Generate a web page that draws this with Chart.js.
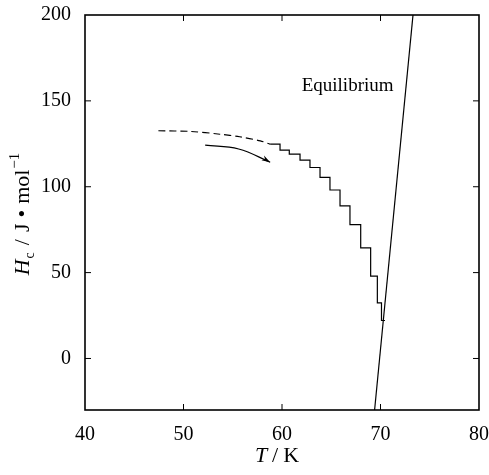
<!DOCTYPE html>
<html>
<head>
<meta charset="utf-8">
<script src="https://cdn.jsdelivr.net/npm/chart.js@4.4.1/dist/chart.umd.min.js"></script>
<style>
  html, body { margin: 0; padding: 0; background: #fff; }
  #wrap { width: 489px; height: 475px; position: relative; }
</style>
</head>
<body>
<div id="wrap"><canvas id="chart"></canvas></div>
<script>
// Values
const xTicks = [40, 50, 60, 70, 80];
const yTicks = [0, 50, 100, 150, 200];

// dashed start of the heating curve
const dashedT = [47.45, 50.7, 53.7, 55.7, 57.8, 58.8];
const dashedH = [132.6, 132.2, 130.6, 129.1, 126.7, 124.8];

// stepped part (each value holds until the next T, then drops)
const stepT = [58.8, 59.8, 60.74, 61.83, 62.84, 63.86, 64.87, 65.89, 66.9, 67.99, 69.0, 69.68, 70.1, 70.46];
const stepH = [124.8, 121.3, 119.0, 115.5, 111.2, 105.4, 98.1, 88.9, 77.9, 64.4, 47.9, 32.4, 22.1, 22.1];

// equilibrium line
const eqT = [69.4, 73.3];
const eqH = [-30, 200];

// arrow
const arrowT = [52.2, 55.6, 58.8];
const arrowH = [124.2, 122.0, 114.3];

const serif = '"Liberation Serif", "DejaVu Serif", serif';

function pts(xs, ys) {
  return xs.map((x, i) => ({ x: x, y: ys[i] }));
}

// draw a run of text pieces starting at x, each with own font / offset / gap
function drawRun(ctx, parts, x) {
  parts.forEach(p => {
    ctx.font = p.f;
    x += p.gap || 0;
    ctx.fillText(p.t, x, p.dy || 0);
    x += ctx.measureText(p.t).width;
  });
  return x;
}

function runWidth(ctx, parts) {
  let w = 0;
  parts.forEach(p => { ctx.font = p.f; w += (p.gap || 0) + ctx.measureText(p.t).width; });
  return w;
}

// box, inward ticks on all four sides, labels and arrowhead
const framePlugin = {
  id: 'frame',
  afterDatasetsDraw(chart) {
    const ctx = chart.ctx;
    const a = chart.chartArea;
    const xs = chart.scales.x;
    const ys = chart.scales.y;
    ctx.save();
    ctx.strokeStyle = '#000';
    ctx.lineWidth = 1.6;
    ctx.strokeRect(a.left, a.top, a.right - a.left, a.bottom - a.top);

    ctx.lineWidth = 1;
    ctx.beginPath();
    xTicks.forEach(v => {
      const px = xs.getPixelForValue(v);
      if (v === 40 || v === 80) return;
      ctx.moveTo(px, a.bottom); ctx.lineTo(px, a.bottom - 6);
      ctx.moveTo(px, a.top); ctx.lineTo(px, a.top + 6);
    });
    yTicks.forEach(v => {
      const py = ys.getPixelForValue(v);
      if (v === 200) return;
      ctx.moveTo(a.left, py); ctx.lineTo(a.left + 6, py);
      ctx.moveTo(a.right, py); ctx.lineTo(a.right - 6, py);
    });
    ctx.stroke();

    // arrowhead at the end of the arrow curve
    const n = arrowT.length;
    const ex = xs.getPixelForValue(arrowT[n - 1]);
    const ey = ys.getPixelForValue(arrowH[n - 1]);
    const bx = xs.getPixelForValue(arrowT[n - 2]);
    const by = ys.getPixelForValue(arrowH[n - 2]);
    const ang = Math.atan2(ey - by, ex - bx) + 0.12;
    ctx.fillStyle = '#000';
    ctx.beginPath();
    ctx.moveTo(ex, ey);
    ctx.lineTo(ex - 9 * Math.cos(ang - 0.3), ey - 9 * Math.sin(ang - 0.3));
    ctx.lineTo(ex - 6 * Math.cos(ang), ey - 6 * Math.sin(ang));
    ctx.lineTo(ex - 9 * Math.cos(ang + 0.3), ey - 9 * Math.sin(ang + 0.3));
    ctx.closePath();
    ctx.fill();

    // Equilibrium label
    ctx.font = '19px ' + serif;
    ctx.textAlign = 'left';
    ctx.textBaseline = 'middle';
    ctx.fillText('Equilibrium', xs.getPixelForValue(62.0), ys.getPixelForValue(158.5));

    // x title: T / K
    ctx.textBaseline = 'alphabetic';
    const xParts = [
      { t: 'T', f: 'italic 22px ' + serif },
      { t: '/', f: '22px ' + serif, gap: 5 },
      { t: 'K', f: '22px ' + serif, gap: 5 }
    ];
    ctx.save();
    ctx.translate(277 - runWidth(ctx, xParts) / 2, 462);
    drawRun(ctx, xParts, 0);
    ctx.restore();

    // y title: H_c / J • mol^-1
    const yParts = [
      { t: 'H', f: 'italic 22px ' + serif },
      { t: 'c', f: '14px ' + serif, dy: 5, gap: 1 },
      { t: '/', f: '22px ' + serif, gap: 7 },
      { t: 'J', f: '22px ' + serif, gap: 7 },
      { t: '\u2022', f: '22px ' + serif, gap: 6 },
      { t: 'mol', f: '22px ' + serif, gap: 6 },
      { t: '\u22121', f: '15px ' + serif, dy: -10, gap: 1 }
    ];
    ctx.translate(29, 214);
    ctx.rotate(-Math.PI / 2);
    drawRun(ctx, yParts, -runWidth(ctx, yParts) / 2);
    ctx.restore();
  }
};

new Chart(document.getElementById('chart'), {
  type: 'scatter',
  data: {
    datasets: [
      {
        data: pts(dashedT, dashedH),
        showLine: true,
        borderColor: '#000',
        borderWidth: 1.1,
        borderDash: [7, 4],
        pointRadius: 0,
        tension: 0.3
      },
      {
        data: pts(stepT, stepH),
        showLine: true,
        stepped: 'before',
        borderColor: '#000',
        borderWidth: 1.2,
        pointRadius: 0
      },
      {
        data: pts(eqT, eqH),
        showLine: true,
        borderColor: '#000',
        borderWidth: 1.2,
        pointRadius: 0
      },
      {
        data: pts(arrowT, arrowH),
        showLine: true,
        borderColor: '#000',
        borderWidth: 1.2,
        pointRadius: 0,
        tension: 0.4
      }
    ]
  },
  options: {
    responsive: true,
    maintainAspectRatio: false,
    animation: false,
    layout: { padding: { top: 15, right: 10, left: 0, bottom: 0 } },
    plugins: {
      legend: { display: false },
      tooltip: { enabled: false }
    },
    scales: {
      x: {
        type: 'linear',
        min: 40,
        max: 80,
        afterBuildTicks: s => { s.ticks = xTicks.map(v => ({ value: v })); },
        afterFit: s => { s.height = 65; s.paddingLeft = 0; s.paddingRight = 0; },
        grid: { display: false },
        border: { display: false },
        ticks: {
          color: '#000',
          padding: 5,
          maxRotation: 0,
          font: { family: serif, size: 20 }
        }
      },
      y: {
        type: 'linear',
        min: -30,
        max: 200,
        afterBuildTicks: s => { s.ticks = yTicks.map(v => ({ value: v })); },
        afterFit: s => { s.width = 85; s.paddingTop = 0; s.paddingBottom = 0; },
        grid: { display: false },
        border: { display: false },
        ticks: {
          color: '#000',
          padding: 6,
          font: { family: serif, size: 20 }
        }
      }
    }
  },
  plugins: [framePlugin]
});
</script>
</body>
</html>
